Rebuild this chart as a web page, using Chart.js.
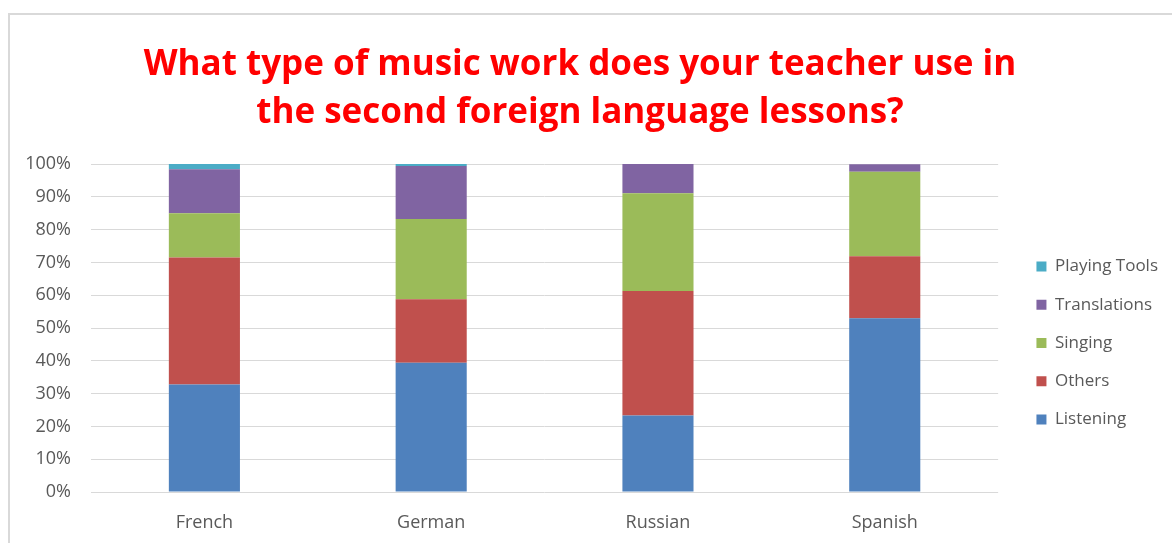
<!DOCTYPE html>
<html>
<head>
<meta charset="utf-8">
<script src="https://cdn.jsdelivr.net/npm/chart.js@4"></script>
<style>
  html, body { margin: 0; padding: 0; background: #fff; overflow: hidden; }
  #frame { position: absolute; left: 8px; top: 13px; width: 1300px; height: 700px;
           border-left: 2px solid #d9d9d9; border-top: 2px solid #d9d9d9; }
  #chart { position: absolute; left: 9px; top: 14px; }
</style>
</head>
<body>
<div id="frame"></div>
<canvas id="chart" width="1176" height="529"></canvas>
<script>
// Survey answers per language, in percent of pupils
const languages = ['French', 'German', 'Russian', 'Spanish'];
const listening = [32.8, 39.4, 23.3, 53.0];
const others = [38.7, 19.4, 38.0, 18.9];
const singing = [13.5, 24.4, 29.8, 25.7];
const translations = [13.4, 16.2, 8.9, 2.3];
const playingTools = [1.6, 0.6, 0, 0];

const grey = '#595959';

// nudge the legend to where Excel put it
const legendOffset = {
  id: 'legendOffset',
  afterLayout(chart) {
    const lg = chart.legend;
    if (!lg) return;
    lg.left += 17; lg.right += 17;
    lg.top += 15; lg.bottom += 15;
  }
};

function series(label, data, color) {
  return { label: label, data: data, backgroundColor: color, borderWidth: 0 };
}

new Chart(document.getElementById('chart'), {
  type: 'bar',
  data: {
    labels: languages,
    datasets: [
      series('Listening', listening, '#4f81bd'),
      series('Others', others, '#c0504d'),
      series('Singing', singing, '#9bbb59'),
      series('Translations', translations, '#8064a2'),
      series('Playing Tools', playingTools, '#4bacc6')
    ]
  },
  options: {
    responsive: false,
    animation: false,
    barPercentage: 0.3135,
    categoryPercentage: 1,
    layout: { padding: { left: 0, right: 34, top: 0, bottom: 0 } },
    plugins: {
      title: {
        display: true,
        text: ['What type of music work does your teacher use in', 'the second foreign language lessons?'],
        color: '#ff0000',
        font: { family: 'Open Sans', size: 35, weight: 'bold', lineHeight: 48 / 35 },
        padding: { top: 27.5, bottom: 26.5 }
      },
      legend: {
        position: 'right',
        fullSize: false,
        reverse: true,
        labels: {
          color: grey,
          font: { family: 'Open Sans', size: 17 },
          boxWidth: 10,
          boxHeight: 10,
          padding: 21.3
        }
      },
      tooltip: { enabled: false }
    },
    scales: {
      x: {
        stacked: true,
        grid: { display: false, drawTicks: false },
        border: { display: false },
        ticks: { color: grey, font: { family: 'Open Sans', size: 18 }, padding: 20 },
        afterFit(scale) { scale.height = 51; }
      },
      y: {
        stacked: true,
        min: 0,
        max: 100,
        grid: { color: '#d9d9d9', drawTicks: false },
        border: { display: false },
        ticks: {
          stepSize: 10,
          color: grey,
          padding: 20,
          font: { family: 'Open Sans', size: 18 },
          callback: value => value + '%'
        },
        afterFit(scale) { scale.width = 82; }
      }
    }
  },
  plugins: [legendOffset]
});
</script>
</body>
</html>
